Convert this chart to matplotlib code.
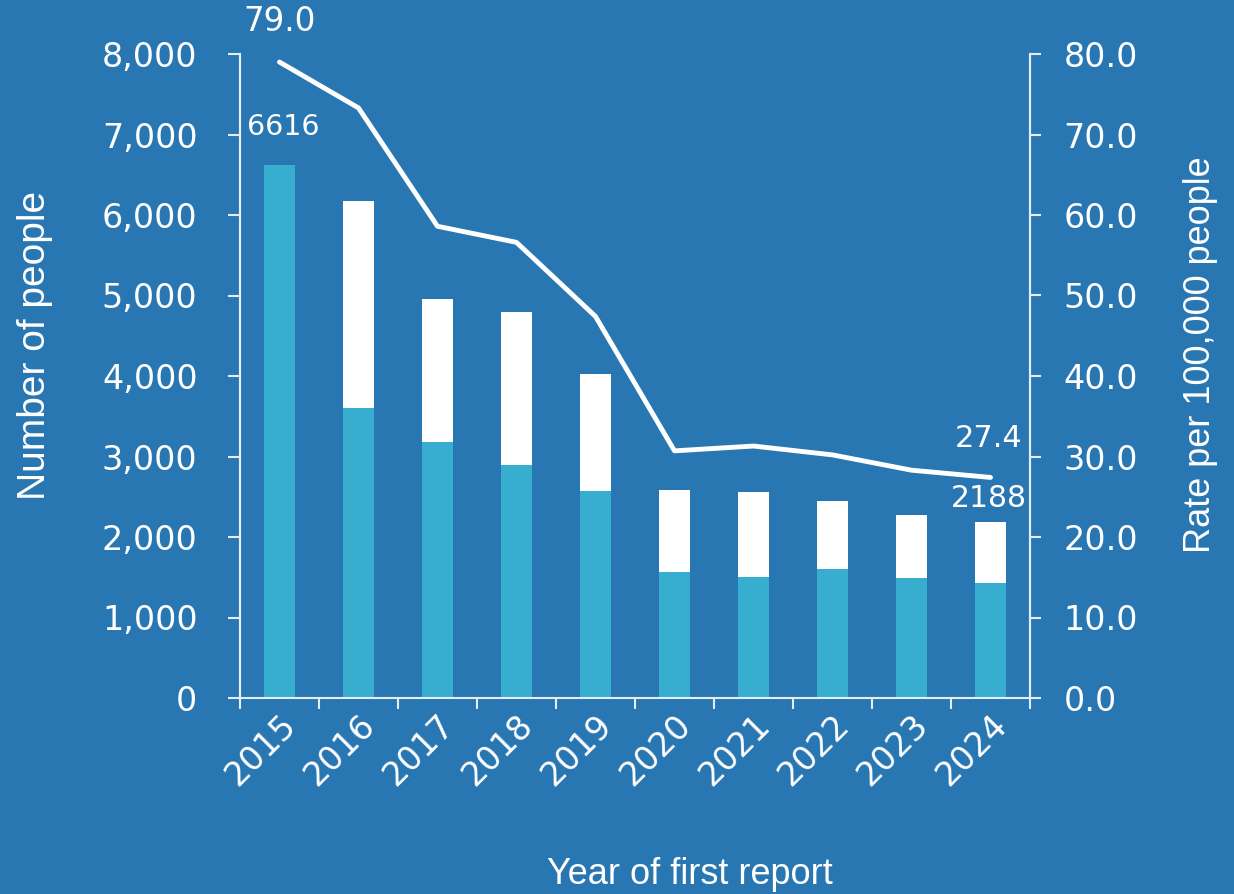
import matplotlib
matplotlib.use("Agg")
import matplotlib.pyplot as plt
import matplotlib.transforms as mtransforms
import numpy as np

years = ["2015", "2016", "2017", "2018", "2019", "2020", "2021", "2022", "2023", "2024"]
lower_counts = [6616, 3606, 3180, 2894, 2567, 1565, 1503, 1606, 1490, 1425]
total_counts = [6616, 6180, 4960, 4800, 4020, 2580, 2555, 2447, 2270, 2188]
rate = [79.0, 73.3, 58.6, 56.6, 47.4, 30.7, 31.3, 30.2, 28.3, 27.4]

upper_counts = [t - l for t, l in zip(total_counts, lower_counts)]

BG = "#2876B2"
CYAN = "#37AECF"
WHITE = "#FFFFFF"
SPINE = "#E6EEF5"
NUM = "DejaVu Sans"
LAB = "Liberation Sans"

W, H = 1234, 894
fig = plt.figure(figsize=(W / 100, H / 100), dpi=100, facecolor=BG)
ax = fig.add_axes([240 / W, (H - 698) / H, 790 / W, 644 / H])
ax.set_facecolor(BG)
ax2 = ax.twinx()

x = np.arange(len(years))
ax.bar(x, lower_counts, width=0.4, color=CYAN, zorder=2)
ax.bar(x, upper_counts, width=0.4, bottom=lower_counts, color=WHITE, zorder=2)
ax2.plot(x, rate, color=WHITE, lw=3.5, solid_capstyle="round", zorder=3)

ax.set_xlim(-0.5, len(years) - 0.5)
ax.set_ylim(0, 8000)
ax2.set_ylim(0, 80)

ax.set_yticks(np.arange(0, 8001, 1000))
ax.set_yticklabels([f"{v:,}" for v in range(0, 8001, 1000)])
ax2.set_yticks(np.arange(0, 81, 10))
ax2.set_yticklabels([f"{v:.1f}" for v in range(0, 81, 10)])

ax.set_xticks(np.arange(-0.5, len(years), 1.0))
ax.set_xticklabels([])
ax.set_xticks(x, minor=True)
ax.set_xticklabels(years, minor=True, rotation=45, ha="right", va="top",
                   rotation_mode="anchor", fontsize=24, color=WHITE, family=NUM)
offset = mtransforms.ScaledTranslation(4 / 100, 0, fig.dpi_scale_trans)
for lab in ax.get_xticklabels(minor=True):
    lab.set_transform(lab.get_transform() + offset)
ax.tick_params(axis="x", which="minor", length=0, pad=7.5)
ax.tick_params(axis="x", which="major", length=8, width=1.5, color=SPINE, direction="out")

for a in (ax, ax2):
    a.spines["top"].set_visible(False)
    for s in ("left", "right", "bottom"):
        a.spines[s].set_color(SPINE)
        a.spines[s].set_linewidth(1.5)
ax2.spines["bottom"].set_visible(False)

ax.tick_params(axis="y", length=8.6, width=1.5, color=SPINE, labelcolor=WHITE,
               labelsize=24, pad=22)
ax2.tick_params(axis="y", length=8, width=1.5, color=SPINE, labelcolor=WHITE,
                labelsize=24, pad=16)
for lab in ax.get_yticklabels() + ax2.get_yticklabels():
    lab.set_family(NUM)

fig.text(35 / W, 1 - 345 / H, "Number of people", rotation=90, fontsize=28,
         color=WHITE, family=LAB, ha="center", va="center")
fig.text(1200 / W, 1 - 355 / H, "Rate per 100,000 people", rotation=90, fontsize=26,
         color=WHITE, family=LAB, ha="center", va="center")
fig.text(690 / W, 1 - 875 / H, "Year of first report", fontsize=26, color=WHITE,
         family=LAB, ha="center", va="center")

ax2.annotate(f"{rate[0]:.1f}", (x[0], rate[0]), xytext=(0, 29.5), textcoords="offset points",
             ha="center", va="center", fontsize=23.5, color=WHITE, family=NUM)
ax2.annotate(f"{rate[-1]:.1f}", (x[-1], rate[-1]), xytext=(-1, 28), textcoords="offset points",
             ha="center", va="center", fontsize=22, color=WHITE, family=NUM)
ax.annotate(f"{total_counts[0]}", (x[0], total_counts[0]), xytext=(2.5, 28), textcoords="offset points",
            ha="center", va="center", fontsize=20.5, color=WHITE, family=NUM)
ax.annotate(f"{total_counts[-1]}", (x[-1], total_counts[-1]), xytext=(-1, 17), textcoords="offset points",
            ha="center", va="center", fontsize=21.5, color=WHITE, family=NUM)

fig.savefig("out.png", dpi=100, facecolor=BG)
